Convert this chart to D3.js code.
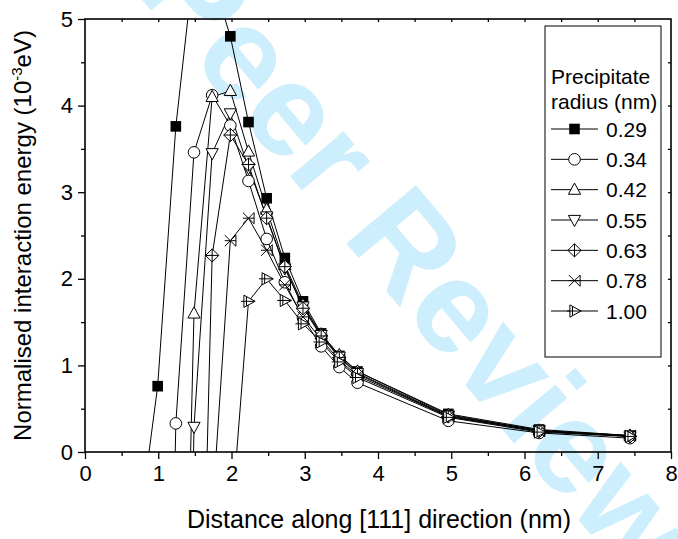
<!DOCTYPE html>
<html><head><meta charset="utf-8">
<script src="https://cdn.jsdelivr.net/npm/d3@7"></script>
<style>body{margin:0;background:#fff;} svg{display:block;font-family:"Liberation Sans",Arial,sans-serif;}</style>
</head><body>
<svg id="c" width="678" height="539"></svg>
<script>
// ---- data ----
const distance = [0.744, 0.992, 1.24, 1.488, 1.736, 1.984, 2.232, 2.48, 2.728, 2.976, 3.224, 3.472, 3.72, 4.96, 6.2, 7.44];
const radii = ["0.29", "0.34", "0.42", "0.55", "0.63", "0.78", "1.00"];
const r029 = [-0.84, 0.76, 3.76, 5.64, 5.48, 4.80, 3.81, 2.93, 2.24, 1.74, 1.37, 1.11, 0.93, 0.44, 0.26, 0.19];
const r034 = [null, -10, 0.33, 3.46, 4.12, 3.77, 3.13, 2.46, 1.96, 1.55, 1.22, 0.98, 0.80, 0.36, 0.22, 0.16];
const r042 = [null, null, -7, 1.60, 4.10, 4.17, 3.47, 2.80, 2.16, 1.70, 1.36, 1.12, 0.93, 0.43, 0.25, 0.19];
const r055 = [null, null, -12, 0.29, 3.45, 3.91, 3.28, 2.72, 2.12, 1.68, 1.35, 1.10, 0.91, 0.42, 0.25, 0.18];
const r063 = [null, null, null, -6, 2.27, 3.66, 3.32, 2.70, 2.14, 1.66, 1.34, 1.09, 0.90, 0.41, 0.24, 0.18];
const r078 = [null, null, null, null, -0.71, 2.44, 2.70, 2.33, 1.93, 1.56, 1.30, 1.06, 0.88, 0.41, 0.24, 0.19];
const r100 = [null, null, null, null, null, -0.95, 1.74, 2.00, 1.75, 1.48, 1.27, 1.04, 0.86, 0.40, 0.23, 0.18];
const seriesValues = [r029, r034, r042, r055, r063, r078, r100];
const markerTypes = ["square", "circle", "triUp", "triDown", "diamondPlus", "xMark", "triRight"];
const xTicks = [0, 1, 2, 3, 4, 5, 6, 7, 8];
const yTicks = [0, 1, 2, 3, 4, 5];

// ---- layout ----
const svg = d3.select("#c");
const L = 85, R = 671, T = 19, B = 452;
const x = d3.scaleLinear().domain([0, 8]).range([L, R]);
const y = d3.scaleLinear().domain([0, 5]).range([B, T]);

// watermark
svg.append("text")
  .attr("transform", "translate(418,258) rotate(50)")
  .attr("text-anchor", "middle").attr("dominant-baseline", "central")
  .style("font-size", "132px").style("font-weight", "bold")
  .attr("fill", "#cdeefc")
  .text("Peer Review");

svg.append("clipPath").attr("id", "clip").append("rect")
  .attr("x", L).attr("y", T).attr("width", R - L).attr("height", B - T);

// axes
const xAxis = svg.append("g").attr("transform", `translate(0,${B})`)
  .call(d3.axisBottom(x).tickValues(xTicks).tickSize(7).tickPadding(6).tickFormat(d3.format("d")));
const xMinor = svg.append("g").attr("transform", `translate(0,${B})`)
  .call(d3.axisBottom(x).tickValues(d3.range(0.5, 8, 1)).tickSize(4).tickFormat(""));
const yAxis = svg.append("g").attr("transform", `translate(${L},0)`)
  .call(d3.axisLeft(y).tickValues(yTicks).tickSize(7).tickPadding(5).tickFormat(d3.format("d")));
const yMinor = svg.append("g").attr("transform", `translate(${L},0)`)
  .call(d3.axisLeft(y).tickValues(d3.range(0.5, 5, 1)).tickSize(4).tickFormat(""));
const xTop = svg.append("g").attr("transform", `translate(0,${T})`)
  .call(d3.axisBottom(x).tickValues(d3.range(0.5, 8, 0.5)).tickSize(3).tickFormat(""));
const yRight = svg.append("g").attr("transform", `translate(${R},0)`)
  .call(d3.axisLeft(y).tickValues(d3.range(0.5, 5, 0.5)).tickSize(3).tickFormat(""));
[xAxis, xMinor, yAxis, yMinor, xTop, yRight].forEach(g => {
  g.selectAll(".domain").remove();
  g.selectAll("line").attr("stroke", "#000").attr("stroke-width", 1.3);
  g.selectAll("text").attr("fill", "#000").style("font-size", "22px");
});
svg.append("rect").attr("x", L).attr("y", T).attr("width", R - L).attr("height", B - T)
  .attr("fill", "none").attr("stroke", "#000").attr("stroke-width", 1.6);

// titles
svg.append("text").attr("x", 379).attr("y", 528).attr("text-anchor", "middle")
  .style("font-size", "25px").text("Distance along [111] direction (nm)");
const yt = svg.append("text").attr("transform", `translate(31,${(T + B) / 2}) rotate(-90)`)
  .attr("text-anchor", "middle").style("font-size", "24px");
yt.append("tspan").text("Normalised interaction energy (10");
yt.append("tspan").attr("dy", -9).style("font-size", "15px").text("-3");
yt.append("tspan").attr("dy", 9).text("eV)");

// marker drawing
function drawMarker(g, type, cx, cy) {
  const s = 5.6;
  const st = {stroke: "#000", "stroke-width": 1};
  const apply = (el) => { Object.entries(st).forEach(([k, v]) => el.attr(k, v)); return el; };
  if (type === "square") {
    g.append("rect").attr("x", cx - 5.3).attr("y", cy - 5.3).attr("width", 10.6).attr("height", 10.6).attr("fill", "#000");
  } else if (type === "circle") {
    apply(g.append("circle").attr("cx", cx).attr("cy", cy).attr("r", 5.8).attr("fill", "#fff"));
  } else if (type === "triUp") {
    apply(g.append("path").attr("d", `M${cx},${cy - s - 1}L${cx + s + 0.5},${cy + s - 1}L${cx - s - 0.5},${cy + s - 1}Z`).attr("fill", "#fff"));
  } else if (type === "triDown") {
    apply(g.append("path").attr("d", `M${cx},${cy + s + 1}L${cx + s + 0.5},${cy - s + 1}L${cx - s - 0.5},${cy - s + 1}Z`).attr("fill", "#fff"));
  } else if (type === "diamondPlus") {
    apply(g.append("path").attr("d", `M${cx},${cy - s - 1}L${cx + s + 1},${cy}L${cx},${cy + s + 1}L${cx - s - 1},${cy}Z`).attr("fill", "#fff"));
    apply(g.append("path").attr("d", `M${cx},${cy - s - 1}V${cy + s + 1}M${cx - s - 1},${cy}H${cx + s + 1}`).attr("fill", "none"));
  } else if (type === "xMark") {
    apply(g.append("path").attr("d", `M${cx - s},${cy - s}L${cx + s},${cy + s}M${cx - s},${cy + s}L${cx + s},${cy - s}M${cx + s},${cy - s}V${cy + s}M${cx - s},${cy}H${cx + s}`).attr("fill", "none"));
  } else if (type === "triRight") {
    apply(g.append("path").attr("d", `M${cx + s + 1},${cy}L${cx - s + 1},${cy - s - 0.5}L${cx - s + 1},${cy + s + 0.5}Z`).attr("fill", "#fff"));
    apply(g.append("path").attr("d", `M${cx - s - 2},${cy}H${cx + s + 1}M${cx - 2},${cy - s + 1}V${cy + s - 1}`).attr("fill", "none"));
  }
}

// series
const plot = svg.append("g").attr("clip-path", "url(#clip)");
const line = d3.line().defined(d => d.v !== null).x(d => x(d.x)).y(d => y(d.v));
seriesValues.forEach((vals, i) => {
  const pts = distance.map((d, j) => ({x: d, v: vals[j]}));
  plot.append("path").datum(pts).attr("d", line).attr("fill", "none").attr("stroke", "#000").attr("stroke-width", 1);
});
seriesValues.forEach((vals, i) => {
  const g = plot.append("g");
  distance.forEach((d, j) => {
    const v = vals[j];
    if (v === null || v < 0 || v > 5) return;
    drawMarker(g, markerTypes[i], x(d), y(v));
  });
});

// legend
const lg = svg.append("g");
lg.append("rect").attr("x", 545).attr("y", 26).attr("width", 116).attr("height", 331)
  .attr("fill", "#fff").attr("stroke", "#000").attr("stroke-width", 1);
lg.append("text").attr("x", 551).attr("y", 84).style("font-size", "21px").text("Precipitate");
lg.append("text").attr("x", 551).attr("y", 109).style("font-size", "21px").text("radius (nm)");
const legY = d3.scalePoint().domain(radii).range([129, 311]);
radii.forEach((r, i) => {
  const yy = legY(r);
  lg.append("line").attr("x1", 551).attr("x2", 598).attr("y1", yy).attr("y2", yy).attr("stroke", "#000").attr("stroke-width", 1);
  drawMarker(lg, markerTypes[i], 574.5, yy);
  lg.append("text").attr("x", 606).attr("y", yy).attr("dy", "0.36em").style("font-size", "21px").text(r);
});
</script>
</body></html>
